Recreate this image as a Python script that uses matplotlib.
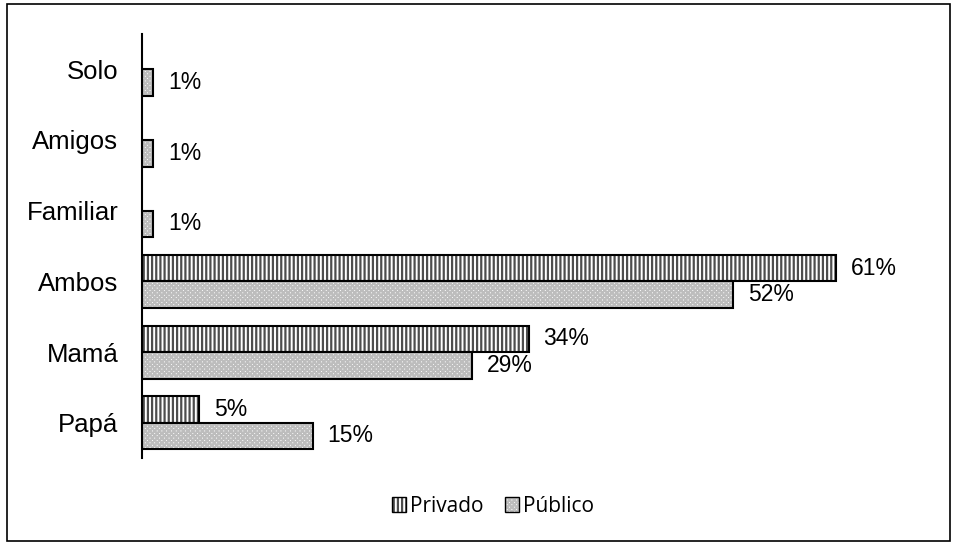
import matplotlib
matplotlib.use("Agg")
import matplotlib.pyplot as plt
from matplotlib.patches import Rectangle, Patch
from matplotlib.colors import to_rgba

categories = ["Papá", "Mamá", "Ambos", "Familiar", "Amigos", "Solo"]
privado = [5, 34, 61, 0, 0, 0]
publico = [15, 29, 52, 1, 1, 1]
series_names = ["Privado", "Público"]

PRIV_HATCH, PUB_HATCH = "||||", "xxxxxxx"
PRIV_HC, PUB_HC = to_rgba("#4d4d4d"), to_rgba("#bdbdbd")

plt.rcParams['hatch.linewidth'] = 1.6
fig = plt.figure(figsize=(9.58, 5.43), dpi=100)
W, H = 958, 543
# outer border
fig.patches.append(Rectangle((7 / W, 1 - 541 / H), (950 - 7) / W, (541 - 4) / H,
                             transform=fig.transFigure, fill=False,
                             edgecolor="black", linewidth=1.2))

ax = fig.add_axes([142 / W, 1 - 458 / H, (938 - 142) / W, (458 - 34) / H])
bh = 0.375
y = list(range(len(categories)))

for i, (p, q) in enumerate(zip(privado, publico)):
    if p > 0:
        b = ax.barh(i + bh / 2, p, height=bh, color="white", edgecolor="black",
                    linewidth=1.5, hatch=PRIV_HATCH)
        b[0]._hatch_color = PRIV_HC
        ax.text(p + 1.3, i + bh / 2, f"{p}%", va="center", ha="left",
                fontsize=16.5, family="Liberation Sans")
    if q > 0:
        b = ax.barh(i - bh / 2, q, height=bh, color="white", edgecolor="black",
                    linewidth=1.5, hatch=PUB_HATCH)
        b[0]._hatch_color = PUB_HC
        ax.text(q + 1.3, i - bh / 2, f"{q}%", va="center", ha="left",
                fontsize=16.5, family="Liberation Sans")

ax.set_xlim(0, 70)
ax.set_ylim(-0.5, len(categories) - 0.5)
ax.set_yticks(y)
ax.set_yticklabels(categories, fontsize=18.5, family="Liberation Sans")
ax.tick_params(axis="y", length=0, pad=17)
ax.set_xticks([])
for s in ["top", "right", "bottom"]:
    ax.spines[s].set_visible(False)
ax.spines["left"].set_linewidth(1.5)

handles = [Patch(facecolor="white", edgecolor="black", hatch=PRIV_HATCH, label=series_names[0]),
           Patch(facecolor="white", edgecolor="black", hatch=PUB_HATCH, label=series_names[1])]
handles[0]._hatch_color = PRIV_HC
handles[1]._hatch_color = PUB_HC
fig.legend(handles=handles, loc="center", bbox_to_anchor=(493 / W, 1 - 506 / H),
           ncol=2, frameon=False, prop={"family": "Open Sans", "size": 15},
           handlelength=0.7, handleheight=0.7, handletextpad=0.2, columnspacing=1.0,
           borderpad=0)

fig.savefig("out.png", dpi=100)
